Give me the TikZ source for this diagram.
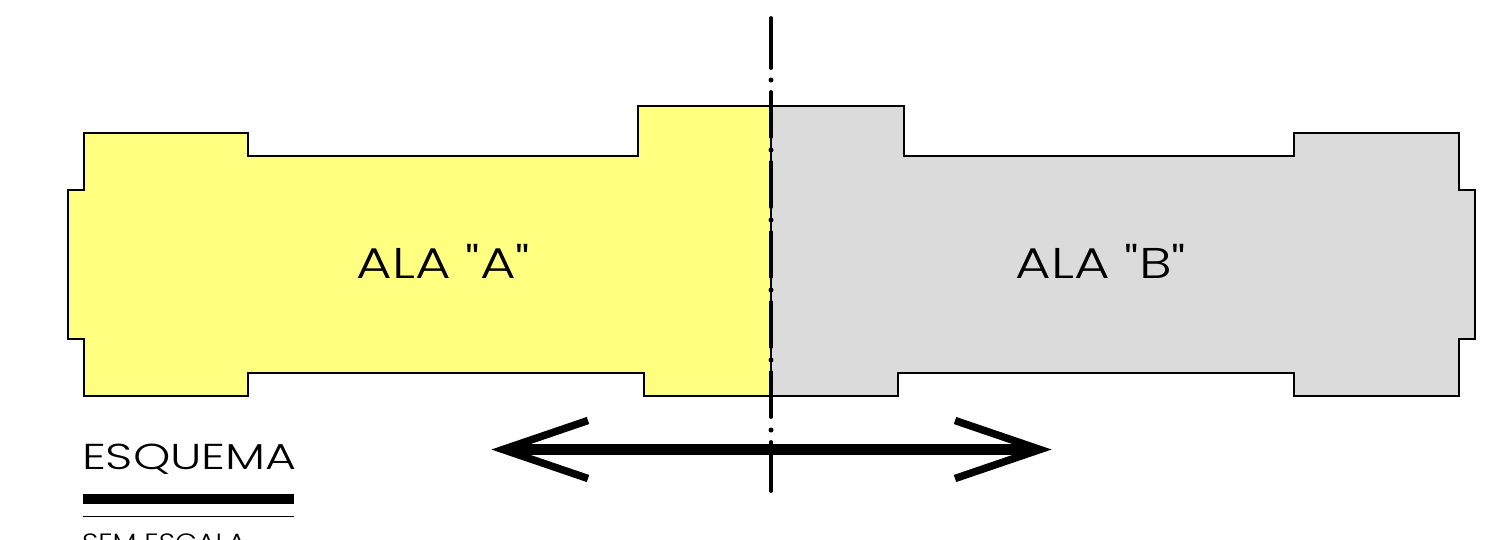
\documentclass[tikz,border=0pt]{standalone}
\usepackage{fontspec}
\usepackage{graphicx}
\setmainfont{Poppins Light}[Ligatures=TeXOff]
\definecolor{alaA}{RGB}{255,255,128}
\definecolor{alaB}{RGB}{219,219,219}
\tikzset{
  wing/.style={draw=black,line width=1.1pt,line join=miter},
  axisline/.style={draw=black,line width=3.8pt,line cap=round},
  axisdot/.style={fill=black,draw=none,circle,minimum size=5pt,inner sep=0pt},
  bigarrow/.style={draw=black,line width=10.5pt,shorten <=8pt,shorten >=8pt},
  barb/.style={draw=black,line width=7.5pt,line join=miter,miter limit=10},
  label/.style={inner sep=0pt,outer sep=0pt,text=black},
}
\begin{document}
\begin{tikzpicture}[x=1pt,y=-1pt]
\useasboundingbox (0,0) rectangle (1485,539);
\clip (0,0) rectangle (1485,539);
\draw[wing,fill=alaA] (771,106)--(638,106)--(638,156)--(248,156)--(248,133)--(84,133)--(84,190)--(68,190)--(68,339)--(84,339)--(84,396)--(248,396)--(248,373)--(644,373)--(644,396)--(771,396)--cycle;
\draw[wing,fill=alaB] (771,106)--(904,106)--(904,156)--(1294,156)--(1294,133)--(1459,133)--(1459,190)--(1475,190)--(1475,339)--(1459,339)--(1459,396)--(1294,396)--(1294,373)--(898,373)--(898,396)--(771,396)--cycle;
\node[label,anchor=base] (a) at (443.5,278) {\fontsize{43}{43}\selectfont\scalebox{1.27}[1]{ALA "A"}};
\node[label,anchor=base] (b) at (1101,278) {\fontsize{43}{43}\selectfont\scalebox{1.27}[1]{ALA "B"}};
\draw[axisline] (771,18)--(771,68) (771,92)--(771,137) (771,162)--(771,207) (771,232)--(771,277) (771,302)--(771,347) (771,372)--(771,417) (771,442)--(771,491);
\foreach \dy/\nm in {80/d1,150/d2,220/d3,290/d4,360/d5,430/d6}
  \node[axisdot] (\nm) at (771,\dy) {};
\coordinate (L) at (503,449.5);
\coordinate (R) at (1040,449.5);
\draw[bigarrow] (L)--(R);
\draw[barb] (588,420.5)--(L)--(588,478.5);
\draw[barb] (955,420.5)--(R)--(955,478.5);
\node[label,anchor=base west] (e) at (82,469) {\fontsize{36}{36}\selectfont\scalebox{1.32}[1]{ESQUEMA}};
\coordinate (b1) at (83,499);
\coordinate (b2) at (294,499);
\draw[draw=black,line width=10pt] (b1)--(b2);
\coordinate (t1) at (83,516.5);
\coordinate (t2) at (294,516.5);
\draw[draw=black,line width=1pt] (t1)--(t2);
\node[label,anchor=base west] (s) at (82,551) {\fontsize{25}{25}\selectfont\scalebox{1.14}[1]{SEM ESCALA}};
\end{tikzpicture}
\end{document}
